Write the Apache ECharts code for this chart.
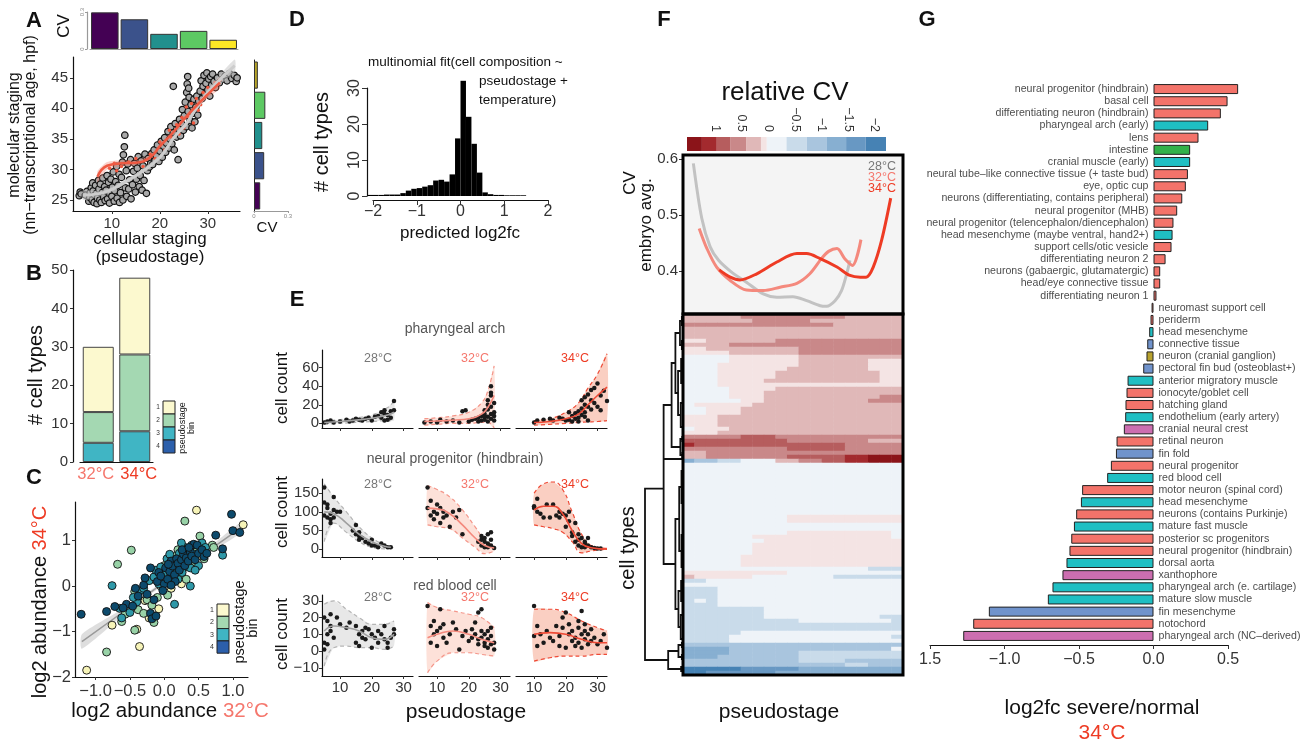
<!DOCTYPE html>
<html>
<head>
<meta charset="utf-8">
<title>temperature and cell composition</title>
<script src="https://cdn.jsdelivr.net/npm/echarts@6.0.0/dist/echarts.min.js"></script>
<style>
  html, body { margin: 0; padding: 0; background: #fff; }
  #fig { width: 1309px; height: 745px; }
</style>
</head>
<body>
<div id="fig"></div>
<script>
const FONT = '"Liberation Sans", Arial, Helvetica, sans-serif';
const INK = '#111', TICK = '#333', SALMON = '#f5776d', RED = '#ee3b24';

// ---------- A: staging ----------
const binLabels = ['1', '2', '3', '4', '5'];
const binColors = ['#440154', '#3b528b', '#21908d', '#5dc963', '#fde725'];
const cvTop = [0.297, 0.241, 0.123, 0.147, 0.075];
const cvRightColors = ['#440154', '#3b528b', '#21908d', '#5dc963', '#b9a62a'];
const cvRight = [0.055, 0.09, 0.073, 0.10, 0.034];

const stagePts = [
  [3.2,25.7],[3.4,26.3],[3.6,26.0],[4.8,26.4],[4.5,25.8],
  [5.2,24.8],[5.4,25.4],[5.5,26.2],[5.7,27.0],[5.9,25.0],[6.0,27.8],[6.1,26.5],[6.3,24.6],[6.4,25.8],[6.6,27.4],[6.8,26.1],[6.9,24.4],[7.0,25.3],[7.2,28.2],[7.3,26.8],[7.5,25.0],[7.6,27.6],
  [7.8,24.6],[8.0,26.2],[8.1,28.6],[8.3,25.5],[8.5,27.2],[8.6,24.9],[8.8,26.6],[9.0,29.0],[9.1,25.2],[9.3,27.9],[9.5,24.5],[9.6,26.0],[9.8,28.4],[10.0,25.6],[10.1,27.1],
  [10.3,29.6],[10.5,24.8],[10.6,26.5],[10.8,28.0],[11.0,30.5],[11.1,25.3],[11.3,27.4],[11.5,29.2],[11.6,24.6],[11.8,26.2],[12.0,28.7],[12.2,31.2],[12.3,25.0],[12.4,32.4],[12.6,33.7],[12.7,35.6],[12.8,27.0],[13.0,29.8],[13.1,25.6],[13.3,30.9],[13.5,26.8],[13.7,28.3],[13.9,31.6],[14.0,25.2],
  [14.3,27.5],[14.5,29.7],[14.7,31.0],[14.9,26.3],[15.1,28.4],[15.3,30.2],[15.5,32.1],[15.7,27.2],[15.9,29.0],[16.1,31.4],[16.3,26.6],[16.5,30.6],[16.7,28.2],[16.9,32.5],[17.2,26.1],[17.4,29.8],[17.6,31.8],[17.8,30.4],
  [18.1,31.0],[18.3,32.6],[18.5,30.8],[18.8,33.2],[19.0,31.5],[19.3,32.2],[19.5,34.0],[19.8,31.3],[20.0,33.0],[20.3,34.6],[20.5,32.0],[20.8,33.8],[21.0,35.2],[21.2,32.8],[21.4,34.3],
  [21.7,36.2],[21.9,33.5],[22.1,35.0],[22.3,37.0],[22.5,34.2],[22.8,43.6],[22.8,36.0],[23.0,33.2],[23.2,37.5],[23.5,35.3],[23.8,31.6],[23.9,36.7],[24.1,38.2],
  [24.3,35.5],[24.5,37.5],[24.7,39.8],[24.9,36.4],[25.1,38.8],[25.3,41.0],[25.5,37.0],[25.6,42.6],[25.7,44.0],[25.8,45.2],[25.9,39.5],[26.0,43.3],[26.1,41.8],[26.3,38.0],[26.5,40.6],[26.7,36.8],[26.9,39.2],[27.1,41.5],[27.3,37.8],[27.5,40.2],[27.7,42.0],[27.9,38.9],[28.1,41.2],
  [28.4,42.8],[28.6,44.5],[28.8,41.6],[29.0,43.6],[29.2,45.4],[29.4,42.3],[29.6,44.1],[29.8,45.8],[30.0,43.0],[30.2,44.8],[30.4,42.0],[30.6,45.2],[30.8,43.8],[31.0,45.6],[31.3,44.4],[31.6,43.4],
  [32.0,45.0],[32.4,44.2],[32.8,45.6],[33.2,44.8],[33.6,45.3],[34.0,44.5],[34.5,45.7],[35.0,44.9],[35.5,45.4],[35.9,44.4],[36.1,45.0]
];
const stageRed = [
  [9.5,30.2],[10.5,31.0],[11,29.8],[12,30.5],[13.5,31.2],[15,31.8],[16.5,30.5],[18,32.5],[19,31.8],[20,34.5],[21,33.2],[22,36.4],[22.5,35.2],[23.5,37.3],
  [24,35.8],[24.6,38.5],[25,36.8],[25.5,40.2],[26,38.6],[26.6,40.8],[27,37.6],[27.6,41.6],[28,39.7],[28.5,40.6],[29,42.6],[30,43.4],[31.5,44.2],[32.5,44.6]
];
const redFitX = [7, 9, 12, 15, 18, 20, 22.7, 25, 27, 30, 32.5];
const redFitY = [28.8, 30.6, 31.0, 31.1, 32.0, 33.8, 36.0, 38.2, 39.9, 42.3, 44.2];
const redFitLo = [27.9, 30.0, 30.5, 30.7, 31.6, 33.4, 35.6, 37.8, 39.4, 41.7, 43.3];
const redFitHi = [29.7, 31.2, 31.5, 31.5, 32.4, 34.2, 36.4, 38.6, 40.4, 42.9, 45.1];
const grayFitX = [4, 7, 9.6, 12, 15.8, 20, 23, 25.6, 28, 31, 35.6];
const grayFitY = [25.8, 26.0, 26.6, 27.6, 29.4, 32.0, 35.3, 37.6, 40.5, 43.5, 47.0];
const grayFitLo = [25.0, 25.5, 26.2, 27.2, 29.0, 31.6, 34.9, 37.2, 40.0, 42.9, 46.0];
const grayFitHi = [26.6, 26.5, 27.0, 28.0, 29.8, 32.4, 35.7, 38.0, 41.0, 44.1, 48.0];

// ---------- B: counts per temperature ----------
const tempLabels = ['32°C', '34°C'];
const countBin1 = [17, 20];
const countBin2 = [8, 20];
const countBin3 = [5, 8];
const legendColors = ['#fcf9cf', '#a4d8b2', '#40b5c4', '#2c5fab'];

// ---------- C: abundance 32 vs 34 ----------
const abund1 = [[-1.13,-1.85],[-0.76,-0.86],[-0.36,-1.33],[-0.40,-0.95],[-0.28,-0.32],[-0.20,-0.65],[-0.15,0.15],[-0.08,-0.50],[0.05,0.30],[0.10,-0.05],[0.20,0.12],[0.35,0.70],[0.47,1.67],[0.55,0.65],[1.15,1.35],[0.25,0.05],[-0.22,-0.70]];
const abund2 = [[-0.84,-1.45],[-0.68,0.48],[-0.57,-0.62],[-0.48,0.79],[-0.43,-0.12],[-0.43,-0.97],[-0.38,-0.52],[-0.25,-0.30],[-0.18,-0.42],[-0.10,-0.25],[-0.05,0.0],[0.0,0.45],[0.05,-0.20],[0.10,0.28],[0.15,0.65],[0.22,0.22],[0.30,1.43],[0.32,0.15],[0.42,0.50],[0.52,1.10],[0.58,0.60],[0.70,0.90],[0.72,0.85],[-0.30,-0.60],[-0.15,-0.80],[0.28,0.40],[0.48,0.78],[-0.62,-0.78],[0.20,0.80]];
const abund3 = [[-0.76,0.01],[-0.65,-0.49],[-0.62,-0.70],[-0.50,-0.58],[-0.40,-0.35],[-0.35,-0.10],[-0.30,-0.05],[-0.22,0.12],[-0.15,0.20],[-0.12,0.35],[-0.05,0.42],[0.0,0.25],[0.04,0.60],[0.08,0.70],[0.12,0.20],[0.16,0.40],[0.20,0.15],[0.22,0.72],[0.26,0.30],[0.30,0.85],[0.34,0.50],[0.38,0.40],[0.40,0.90],[0.44,0.70],[0.50,0.45],[0.55,0.95],[0.60,0.85],[0.85,0.68],[0.15,-0.40],[0.38,0.0],[-0.45,-0.25],[0.05,0.10],[0.45,0.35],[0.25,0.95],[-0.08,0.05]];
const abund4 = [[-1.21,-0.62],[-0.84,-0.56],[-0.72,-0.45],[-0.55,-0.40],[-0.46,-0.44],[-0.38,-0.22],[-0.30,0.02],[-0.25,-0.18],[-0.20,-0.60],[-0.18,-0.72],[-0.12,-0.66],[-0.15,-0.30],[-0.10,0.10],[-0.08,0.30],[-0.05,0.22],[0.0,0.05],[0.02,0.40],[0.05,0.15],[0.08,0.32],[0.10,0.55],[0.12,0.44],[0.15,0.25],[0.18,0.60],[0.20,0.50],[0.22,0.35],[0.25,0.58],[0.28,0.70],[0.30,0.45],[0.32,0.62],[0.35,0.55],[0.38,0.75],[0.40,0.66],[0.43,0.92],[0.45,0.58],[0.48,0.90],[0.50,0.72],[0.55,0.80],[0.58,0.65],[0.62,0.72],[0.75,1.12],[0.85,0.82],[0.98,1.58],[1.0,1.22],[1.10,1.18],[-0.60,-0.48],[-0.42,-0.05],[-0.28,0.18],[-0.20,0.40],[0.06,0.48],[0.16,0.10],[0.26,0.80],[0.36,0.85],[-0.02,-0.10],[0.10,0.02]];
const abundColors = ['#f7f4b8', '#98d2a7', '#2e98a8', '#0c4a6c'];
const abFitX = [-1.2, -0.6, 0, 0.6, 1.15];
const abFitY = [-1.22, -0.57, 0.08, 0.73, 1.32];
const abFitLo = [-1.38, -0.64, 0.04, 0.67, 1.21];
const abFitHi = [-1.06, -0.50, 0.12, 0.79, 1.43];

// ---------- D: histogram of predicted log2fc ----------
const histStart = -2.125, histWidth = 0.125;
const histCounts = [0.3,0.3,0.3,0.4,0.4,0.4,0.8,1.5,2.0,2.2,2.6,3.0,4.3,4.5,4.0,6.0,16,32,22,14.5,6.5,1.0,0.5,0.3,0.3,0.2,0.2,0.2,0.2];

// ---------- E: example cell types ----------
const arch28 = { pts: [[5,1],[6,2],[7,3],[8,1],[10,2],[12,4],[13,2],[14,3],[15,5],[16,4],[17,3],[18,5],[19,6],[20,3],[21,7],[22,8],[23,6],[24,10],[24,14],[25,9],[25,4],[26,13],[26,6],[27,14],[27,24],[24,3],[23,12]],
  x: [5,10,15,20,25,27], mid: [1,2,3.5,5.5,9,12], lo: [-1,0,1,2,3,3], hi: [3,4,6,9,17,24] };
const arch32 = { pts: [[6,1],[8,2],[10,1],[11,4],[13,2],[15,3],[17,1],[18,13],[19,14],[20,2],[21,4],[22,5],[23,6],[23,2],[24,8],[24,3],[25,10],[25,4],[25,14],[26,20],[26,7],[26,25],[26,2],[27,30],[27,40],[27,18],[27,10],[27,5],[28,22],[28,12],[28,8],[27,33],[26,15],[25,7],[28,3]],
  x: [6,10,15,20,24,26,28], mid: [2,2.5,3.5,5,10,17,30], lo: [-2,-1,0,0,1,1,-5], hi: [5,6,8,12,22,35,62] };
const arch34 = { pts: [[10,1],[11,3],[13,4],[15,5],[16,3],[18,6],[20,3],[21,4],[21,12],[22,8],[23,5],[23,11],[24,13],[24,6],[25,16],[25,9],[25,25],[26,28],[26,20],[26,12],[26,7],[27,31],[27,18],[27,3],[28,36],[28,15],[28,25],[29,38],[29,22],[30,43],[30,18],[31,14],[31,30],[33,24],[32,35],[24,2],[22,2],[19,5]],
  x: [10,15,20,24,27,30,33], mid: [1,2,5,10,20,30,39], lo: [-2,-1,0,1,1.5,2,3], hi: [3,5,12,22,38,53,75] };
const np28 = { pts: [[5,165],[5,125],[5,90],[6,85],[6,120],[6,110],[7,80],[7,95],[7,70],[8,105],[8,140],[8,85],[9,100],[10,100],[14,50],[15,65],[15,40],[16,35],[16,25],[16,45],[17,30],[18,20],[19,15],[20,25],[20,10],[21,10],[22,5],[23,15],[24,10],[25,5],[26,5]],
  x: [5,8,12,16,20,24,26], mid: [100,95,70,40,20,8,5], lo: [20,70,45,20,5,1,1], hi: [175,140,100,60,30,12,8] };
const np32 = { pts: [[7,165],[7,110],[8,130],[8,90],[9,100],[9,80],[10,120],[10,95],[11,110],[11,70],[12,85],[12,100],[13,90],[14,60],[15,100],[16,85],[17,105],[18,40],[23,20],[24,35],[24,10],[25,5],[25,20],[26,15],[26,40],[27,45],[27,10],[26,5],[27,25],[28,3],[24,25],[25,30]],
  x: [7,10,14,18,22,25,28], mid: [110,108,95,65,30,10,3], lo: [65,60,55,30,5,-12,-5], hi: [170,160,140,105,60,25,8] };
const np34 = { pts: [[10,115],[10,110],[11,135],[11,100],[12,95],[13,85],[14,120],[15,85],[16,120],[17,90],[18,85],[18,100],[19,95],[20,90],[20,60],[21,100],[21,75],[22,45],[22,35],[23,20],[23,70],[24,25],[24,10],[25,30],[25,5],[26,15],[26,5],[27,30],[27,10],[28,5],[29,3],[30,2],[31,2],[24,40],[26,20]],
  x: [10,13,16,19,22,25,28,33], mid: [105,115,115,95,50,15,4,0], lo: [65,60,55,45,20,-10,-5,0], hi: [150,175,180,160,100,40,10,2] };
const rbc28 = { pts: [[5,20],[5,5],[5,1],[6,18],[6,10],[6,4],[7,15],[7,22],[7,12],[8,8],[9,20],[10,16],[12,14],[13,17],[15,15],[15,5],[16,10],[16,3],[17,12],[17,8],[18,14],[19,13],[20,10],[20,2],[21,8],[22,5],[23,10],[24,15],[24,7],[25,5],[25,2],[26,8],[27,13],[27,10],[18,7],[22,12]],
  x: [5,8,12,16,20,24,27], mid: [12,15,14,12,8,7,10], lo: [-9,2,3,2,2,1,3], hi: [28,30,25,20,16,16,18] };
const rbc32 = { pts: [[7,27],[8,15],[8,5],[9,18],[9,10],[10,12],[10,3],[11,25],[11,14],[12,8],[12,16],[13,5],[14,10],[15,17],[16,13],[17,1],[18,9],[19,12],[20,6],[21,8],[22,10],[22,17],[23,23],[23,4],[24,25],[24,12],[24,8],[25,5],[25,3],[25,10],[26,7],[26,2],[26,12],[27,4],[27,9],[27,14],[28,5],[28,1],[21,13],[23,7]],
  x: [7,10,15,20,24,28], mid: [8,10,12,10,7,5], lo: [-13,-6,-1,-1,-2,-3], hi: [29,26,24,22,20,14] };
const rbc34 = { pts: [[10,9],[10,27],[11,15],[11,3],[12,10],[13,5],[14,12],[15,8],[16,6],[17,15],[18,9],[19,14],[19,20],[20,23],[20,2],[21,10],[21,16],[22,6],[22,12],[23,8],[23,3],[24,14],[24,5],[25,24],[25,10],[25,2],[26,16],[26,7],[26,12],[27,4],[27,10],[28,6],[28,13],[29,8],[30,4],[31,6],[32,10],[33,2],[18,3],[24,18]],
  x: [10,15,20,25,30,33], mid: [10,11,10,7,5,5], lo: [-6,-4,-3,-3,-2,-2], hi: [25,25,23,18,14,12] };

// ---------- F: relative CV ----------
const cvBreaks = [1.53, 1.25, 0.97, 0.71, 0.42, 0.14, 0.03, -0.34, -0.72, -1.09, -1.46, -1.83, -2.21];
const cvColors = ['#8b1419', '#a32a2e', '#b65d5e', '#c98889', '#e0b8b8', '#f4e4e4', '#eef3f8', '#c9dbea', '#a9c5de', '#87afd1', '#6898c3', '#4682b4'];
const cvLevels = [1.39, 1.11, 0.84, 0.565, 0.28, 0.085, -0.155, -0.53, -0.905, -1.275, -1.645, -2.02];
const cvTicks = [1, 0.5, 0, -0.5, -1, -1.5, -2];
const cv28X = [4.6,5.9,7.2,8.5,10.5,12.8,15.4,17.5,20,22.1,24.2,25.2,26.5,27.5,28.3,28.8];
const cv28Y = [0.592,0.494,0.443,0.419,0.398,0.380,0.359,0.353,0.354,0.347,0.338,0.337,0.347,0.365,0.395,0.419];
const cv32X = [5.5,6.7,8.2,10.3,12.8,15.4,18,20.6,22.6,24.4,25.5,26.8,28,29.2,30.5];
const cv32Y = [0.476,0.440,0.407,0.383,0.366,0.365,0.371,0.378,0.395,0.422,0.435,0.440,0.422,0.410,0.456];
const cv34X = [8.6,10.3,11.8,14.4,17.5,20.6,22.1,24.2,26.8,28.8,30.4,31.3,32.4,33.7,35.1];
const cv34Y = [0.402,0.389,0.384,0.395,0.416,0.431,0.431,0.422,0.407,0.392,0.389,0.389,0.407,0.455,0.530];
// one string per cell type, run-length coded: level x number of pseudostage bins (19 bins)
const cvRows = [
  '4x5 3x9 4x5', '4x6 3x5 4x8', '3x13 4x6', '4x19', '4x19', '4x19', '5x2 4x6 3x11', '4x4 3x15', '5x2 4x8 3x9', '5x4 4x6 3x9',
  '6x4 5x6 4x9', '6x4 5x6 4x6 5x3', '6x3 5x7 4x6 5x3', '6x3 5x6 4x7 5x3', '6x3 5x5 4x9 5x2', '6x3 5x5 4x9 5x2', '6x3 5x4 4x10 5x2', '6x3 5x16', '6x4 5x4 4x11', '6x4 5x3 4x12',
  '6x4 5x3 4x10 3x2', '6x5 5x2 4x9 3x3', '6x1 5x5 4x13', '6x2 5x3 4x14', '6x2 5x3 4x14', '5x3 4x16', '5x3 4x16', '5x3 4x16', '6x1 5x3 4x15', '5x3 4x16',
  '3x5 2x3 3x11', '2x9 3x7 4x3', '1x1 2x13 3x5', '3x9 2x5 3x5', '4x2 3x17', '4x2 3x7 2x5 1x2 0x3', '9x1 8x2 7x2 6x3 4x2 3x2 2x2 1x2 0x3', '6x19', '6x19', '6x19',
  '6x19', '6x19', '6x19', '6x19', '6x19', '6x19', '6x19', '6x19', '6x19', '6x19',
  '6x9 5x10', '6x9 5x10', '6x19', '6x19', '6x9 5x9 6x1', '6x6 5x12 6x1', '6x7 5x12', '6x6 5x13', '6x6 5x13', '6x6 5x13',
  '6x5 5x14', '6x5 5x14', '6x5 5x14', '6x16 7x3', '5x9 6x10', '4x1 5x5 6x7 7x6', '7x2 6x17', '6x19', '7x3 6x16', '7x3 6x16',
  '7x3 6x16', '7x1 6x1 7x1 6x16', '7x3 6x16', '7x7 6x12', '7x7 6x12', '7x7 6x10 7x2', '7x10 6x8 7x1', '7x19', '7x19', '7x5 6x14',
  '7x4 6x14 7x1', '7x4 6x15', '8x19', '9x4 8x14 6x1', '9x4 8x6 7x9', '9x3 8x7 7x9', '8x10 7x4 8x5', '8x14 7x2 8x3', 'bx5 ax5 9x9', 'bx2 ax6 9x11'
];
// dendrogram joins: [height, row of upper child, row of lower child, upper child height, lower child height]
const dendroNodes = [
  [1.00, 43.4, 86.25, 0.51, 0.39],
  [0.51, 22.5, 62.25, 0.30, 0.20], [0.51, 36.0, 36.0, 0, 0],
  [0.30, 12.0, 33.0, 0.20, 0.07], [0.20, 4.5, 19.5, 0.08, 0.13],
  [0.08, 1.5, 7.5, 0.03, 0.03], [0.03, 0.5, 2.5, 0, 0], [0.03, 6.5, 8.5, 0, 0],
  [0.13, 14, 25, 0.05, 0.06], [0.05, 11, 17, 0, 0], [0.06, 22, 28, 0, 0],
  [0.07, 31, 35, 0.02, 0.02], [0.02, 30.5, 31.5, 0, 0], [0.02, 34.5, 35.5, 0, 0],
  [0.20, 51, 73.5, 0.10, 0.12], [0.10, 43, 59, 0.04, 0.04], [0.04, 39, 47, 0, 0], [0.04, 55, 63, 0, 0],
  [0.12, 69, 78, 0.05, 0.06], [0.05, 66.5, 71.5, 0, 0], [0.06, 75, 81, 0, 0],
  [0.39, 84, 88.5, 0.12, 0.05], [0.12, 82.5, 85.5, 0.03, 0.03], [0.03, 82, 83, 0, 0], [0.03, 85, 86, 0, 0], [0.05, 88, 89, 0, 0]
];

// ---------- G: log2fc severe/normal ----------
const gNames = ['neural progenitor (hindbrain)', 'basal cell', 'differentiating neuron (hindbrain)', 'pharyngeal arch (early)', 'lens', 'intestine', 'cranial muscle (early)',
  'neural tube\u2013like connective tissue (+ taste bud)', 'eye, optic cup', 'neurons (differentiating, contains peripheral)', 'neural progenitor (MHB)',
  'neural progenitor (telencephalon/diencephalon)', 'head mesenchyme (maybe ventral, hand2+)', 'support cells/otic vesicle', 'differentiating neuron 2',
  'neurons (gabaergic, glutamatergic)', 'head/eye connective tissue', 'differentiating neuron 1',
  'neuromast support cell', 'periderm', 'head mesenchyme', 'connective tissue', 'neuron (cranial ganglion)', 'pectoral fin bud (osteoblast+)', 'anterior migratory muscle',
  'ionocyte/goblet cell', 'hatching gland', 'endothelium (early artery)', 'cranial neural crest', 'retinal neuron', 'fin fold', 'neural progenitor', 'red blood cell',
  'motor neuron (spinal cord)', 'head mesenchyme', 'neurons (contains Purkinje)', 'mature fast muscle', 'posterior sc progenitors', 'neural progenitor (hindbrain)',
  'dorsal aorta', 'xanthophore', 'pharyngeal arch (e. cartilage)', 'mature slow muscle', 'fin mesenchyme', 'notochord', 'pharyngeal arch (NC\u2013derived)'];
const gVals = [0.568, 0.497, 0.452, 0.367, 0.302, 0.246, 0.246, 0.231, 0.217, 0.193, 0.159, 0.134, 0.128, 0.121, 0.081, 0.045, 0.045, 0.020,
  -0.013, -0.020, -0.029, -0.042, -0.047, -0.069, -0.174, -0.181, -0.188, -0.190, -0.199, -0.248, -0.252, -0.286, -0.311,
  -0.479, -0.487, -0.519, -0.534, -0.552, -0.564, -0.584, -0.611, -0.678, -0.709, -1.105, -1.210, -1.277];
const gGroup = ['N','N','N','M','N','E','M','N','N','N','N','N','M','N','N','N','N','N',
  'N','N','M','C','G','C','M','N','N','M','X','N','C','N','M','N','M','N','M','N','N','M','X','M','M','C','N','X'];
const gColors = { N: '#f3736a', M: '#1fbfc3', E: '#33b14a', C: '#7093cc', G: '#b8a22e', X: '#cc6eb0' };

// ---------- building blocks ----------
const grid = [], xAxis = [], yAxis = [], series = [], elements = [];

function panel(box, xa, ya) {
  const g = grid.length;
  grid.push({ left: box[0], top: box[1], width: box[2], height: box[3] });
  xa.gridIndex = g; ya.gridIndex = g;
  xAxis.push(xa); yAxis.push(ya);
  return { xAxisIndex: g, yAxisIndex: g };
}

function axisV(min, max, ticks, o) {
  o = o || {};
  const fmt = o.fmt || (v => String(v).replace('-', '\u2212'));
  return {
    type: 'value', min: min, max: max, inverse: !!o.inverse, position: o.position, offset: o.offset || 0,
    splitLine: { show: false },
    axisLine: { show: o.line !== false, onZero: false, lineStyle: { color: o.lineColor || INK, width: 1.2 } },
    axisTick: { show: !!ticks && o.tick !== false, customValues: ticks || [], length: o.tickLen || 3, lineStyle: { color: o.lineColor || TICK } },
    axisLabel: { show: !!ticks && o.label !== false, customValues: ticks || [], color: o.labelColor || TICK, fontFamily: FONT,
      fontSize: o.fs || 15, margin: o.margin == null ? 5 : o.margin, rotate: o.rotate || 0, formatter: fmt }
  };
}

function scatter(ax, data, color, size, border, z) {
  series.push({ type: 'scatter', ...ax, data: data, symbolSize: size, z: z || 2, silent: true,
    itemStyle: { color: color, borderColor: '#111', borderWidth: border || 0, opacity: 1 } });
}
function curve(ax, xs, ys, color, width, dash, z, smooth) {
  series.push({ type: 'line', ...ax, data: xs.map((x, i) => [x, ys[i]]), smooth: smooth == null ? 0.5 : smooth, symbol: 'none', z: z || 3, silent: true,
    lineStyle: { color: color, width: width, type: dash ? [4, 3] : 'solid' } });
}
function band(ax, xs, lo, hi, fill, z) {
  series.push({ type: 'custom', ...ax, data: [[xs[0], lo[0]]], z: z || 1, silent: true,
    renderItem: (params, api) => {
      const pts = xs.map((x, i) => api.coord([x, hi[i]])).concat(xs.map((x, i) => api.coord([x, lo[i]])).reverse());
      return { type: 'polygon', shape: { points: pts, smooth: 0.2 }, style: { fill: fill } };
    } });
}
function txt(x, y, text, size, o) {
  o = o || {};
  elements.push({ type: 'text', x: x, y: y, rotation: o.rot ? Math.PI / 2 : 0, z: 50, silent: true,
    style: { text: text, fill: o.color || INK, fontFamily: FONT, fontSize: size, fontWeight: o.bold ? 'bold' : 'normal',
      align: o.align || 'center', verticalAlign: 'middle', rich: o.rich } });
}
function rect(x, y, w, h, fill, stroke, lw) {
  elements.push({ type: 'rect', z: 60, silent: true, shape: { x: x, y: y, width: w, height: h },
    style: { fill: fill, stroke: stroke, lineWidth: lw } });
}

// ---------- A ----------
const axA = panel([73, 57, 167, 154], axisV(1.9, 36.7, [10, 20, 30]), axisV(23.2, 48.4, [25, 30, 35, 40, 45]));
scatter(axA, stagePts, '#a9a9a9', 6.5, 1.2, 2);
scatter(axA, stageRed, '#f0583f', 3.5, 0, 3);
band(axA, grayFitX, grayFitLo, grayFitHi, 'rgba(200,200,200,0.55)', 4);
curve(axA, grayFitX, grayFitY, '#cdcdcd', 3, false, 5);
band(axA, redFitX, redFitLo, redFitHi, 'rgba(240,110,90,0.3)', 4);
curve(axA, redFitX, redFitY, '#ee5a43', 2.5, false, 5);

const axAt = panel([90, 12, 148, 37],
  { type: 'category', data: binLabels, axisLine: { lineStyle: { color: '#999' } }, axisTick: { alignWithLabel: true, length: 2, lineStyle: { color: '#999' } }, axisLabel: { show: false } },
  axisV(0, 0.3, [0, 0.3], { fs: 6, rotate: 90, lineColor: '#999', labelColor: '#888', offset: 3, margin: 2, tickLen: 2 }));
series.push({ type: 'bar', ...axAt, data: cvTop.map((v, i) => ({ value: v, itemStyle: { color: binColors[i] } })), barCategoryGap: '7%', silent: true,
  itemStyle: { borderColor: '#333', borderWidth: 1 } });

const axAr = panel([254, 60, 34, 151],
  axisV(0, 0.3, [0, 0.3], { fs: 6, lineColor: '#999', labelColor: '#888', margin: 2, tickLen: 2 }),
  { type: 'category', data: binLabels, offset: 2, axisLine: { lineStyle: { color: '#222' } }, axisTick: { alignWithLabel: true, length: 2 }, axisLabel: { show: false } });
series.push({ type: 'bar', ...axAr, data: cvRight.map((v, i) => ({ value: v, itemStyle: { color: cvRightColors[i] } })), barCategoryGap: '10%', silent: true,
  itemStyle: { borderColor: '#333', borderWidth: 1 } });

txt(34, 21, 'A', 22, { bold: true });
txt(64, 26, 'CV', 17, { rot: true });
txt(15, 135, 'molecular staging', 16, { rot: true });
txt(31, 135, '(nn\u2212transcriptional age, hpf)', 16, { rot: true });
txt(150, 239, 'cellular staging', 17);
txt(150, 257, '(pseudostage)', 17);
txt(267, 228, 'CV', 15);

// ---------- B ----------
const axB = panel([80, 270, 73, 192],
  { type: 'category', data: tempLabels, axisLine: { lineStyle: { color: INK, width: 1.2 } }, axisTick: { show: false },
    axisLabel: { interval: 0, margin: 4, formatter: (v, i) => (i === 0 ? '{a|' : '{b|') + v + '}',
      rich: { a: { color: SALMON, fontSize: 16.5, fontFamily: FONT, padding: [0, 5, 0, 0] },
              b: { color: RED, fontSize: 16.5, fontFamily: FONT, padding: [0, 0, 0, 8] } } } },
  axisV(0, 50, [0, 10, 20, 30, 40, 50], { offset: 7 }));
[[countBin3, legendColors[2]], [countBin2, legendColors[1]], [countBin1, legendColors[0]]].forEach(([vals, col]) => {
  series.push({ type: 'bar', ...axB, data: vals, stack: 'bins', barWidth: 31, silent: true,
    itemStyle: { color: col, borderColor: '#444', borderWidth: 1 } });
});
legendColors.forEach((c, k) => {
  rect(163, 401 + 13 * k, 12, 13, c, '#222', 1);
  txt(158, 407.5 + 13 * k, String(k + 1), 6.5, { color: '#333' });
});
txt(183, 428, 'pseudostage', 9, { rot: true });
txt(192, 428, 'bin', 9, { rot: true });
txt(34, 274, 'B', 22, { bold: true });
txt(36, 375, '# cell types', 20, { rot: true });

// ---------- C ----------
const axC = panel([75, 502, 173, 175],
  axisV(-1.30, 1.22, [-1, -0.5, 0, 0.5, 1], { fs: 16.5, margin: 6, fmt: v => v.toFixed(1).replace('-', '\u2212') }),
  axisV(-2, 1.85, [-2, -1, 0, 1], { fs: 16.5, margin: 4 }));
band(axC, abFitX, abFitLo, abFitHi, 'rgba(190,190,190,0.5)', 1);
curve(axC, abFitX, abFitY, '#9a9a9a', 1.5, false, 2, 0);
[abund1, abund2, abund3, abund4].forEach((d, k) => scatter(axC, d, abundColors[k], 8, 0.9, 3 + k));
legendColors.forEach((c, k) => {
  rect(217, 604 + 12.3 * k, 12, 12.3, c, '#222', 1);
  txt(212, 610 + 12.3 * k, String(k + 1), 7, { color: '#333' });
});
txt(240, 622, 'pseudostage', 14.5, { rot: true });
txt(253, 628, 'bin', 14.5, { rot: true });
txt(34, 478, 'C', 22, { bold: true });
txt(40, 602, 'log2 abundance {r|34°C}', 20, { rot: true, rich: { r: { fill: RED, fontSize: 20, fontFamily: FONT } } });
txt(170, 711, 'log2 abundance {s|32°C}', 20.5, { rich: { s: { fill: SALMON, fontSize: 20.5, fontFamily: FONT } } });

// ---------- D ----------
const axD = panel([373, 88, 175, 108],
  axisV(-2, 2, [-2, -1, 0, 1, 2], { offset: 4, fs: 16, tickLen: 5, margin: 4 }),
  axisV(0, 30, [0, 10, 20, 30], { offset: 6, fs: 16, tickLen: 5, rotate: 90, margin: 4 }));
series.push({ type: 'custom', ...axD, data: histCounts.map((c, i) => [histStart + i * histWidth, c]), silent: true, clip: false,
  renderItem: (params, api) => {
    const a = api.coord([api.value(0), api.value(1)]);
    const b = api.coord([api.value(0) + histWidth, 0]);
    return { type: 'rect', shape: { x: a[0], y: a[1], width: b[0] - a[0], height: b[1] - a[1] }, style: { fill: '#000' } };
  } });
txt(297, 20, 'D', 22, { bold: true });
txt(368, 62, 'multinomial fit(cell composition ~', 13.5, { align: 'left' });
txt(479, 81, 'pseudostage +', 13.5, { align: 'left' });
txt(479, 100, 'temperature)', 13.5, { align: 'left' });
txt(322, 142, '# cell types', 20, { rot: true });
txt(460, 233, 'predicted log2fc', 17);

// ---------- E ----------
const eRows = [
  { title: 'pharyngeal arch', top: 350, h: 78, ymin: -5, ymax: 79, ticks: [0, 20, 40, 60], tempY: 359, titleY: 329, labelY: 388, sets: [arch28, arch32, arch34] },
  { title: 'neural progenitor (hindbrain)', top: 479, h: 78, ymin: -21, ymax: 188, ticks: [0, 50, 100, 150], tempY: 485, titleY: 459, labelY: 512, sets: [np28, np32, np34] },
  { title: 'red blood cell', top: 595, h: 81, ymin: -14.9, ymax: 33.5, ticks: [-10, 0, 10, 20, 30], tempY: 598, titleY: 586, labelY: 634, sets: [rbc28, rbc32, rbc34] }
];
const eLefts = [322, 419, 516];
const eTemps = ['28°C', '32°C', '34°C'];
const eTempX = [378, 475, 575];
const eStyles = [
  { line: '#a0a0a0', fill: 'rgba(190,190,190,0.35)', dash: '#b5b5b5', text: '#777' },
  { line: '#f4897d', fill: 'rgba(250,175,155,0.38)', dash: '#f4968a', text: SALMON },
  { line: '#ee4a36', fill: 'rgba(243,140,110,0.42)', dash: '#ee4a36', text: RED }
];
eRows.forEach((row, r) => {
  row.sets.forEach((s, c) => {
    const st = eStyles[c];
    const ax = panel([eLefts[c], row.top, 91, row.h],
      axisV(4.3, 33, [10, 20, 30], { label: r === 2, fs: 15, margin: 4 }),
      axisV(row.ymin, row.ymax, row.ticks, { line: c === 0, tick: c === 0, label: c === 0, fs: 15, margin: 3 }));
    band(ax, s.x, s.lo, s.hi, st.fill, 1);
    curve(ax, s.x, s.lo, st.dash, 1.2, true, 2);
    curve(ax, s.x, s.hi, st.dash, 1.2, true, 2);
    scatter(ax, s.pts, '#1a1a1a', 4.5, 0, 3);
    curve(ax, s.x, s.mid, st.line, 1.6, false, 4);
    txt(eTempX[c], row.tempY, eTemps[c], 12.5, { color: st.text });
  });
  txt(455, row.titleY, row.title, 14, { color: '#555' });
  txt(282, row.labelY, 'cell count', 17, { rot: true });
});
txt(297, 300, 'E', 22, { bold: true });
txt(466, 712, 'pseudostage', 21);

// ---------- F ----------
const axCb = panel([687, 137, 199, 14],
  axisV(cvBreaks[cvBreaks.length - 1], cvBreaks[0], cvTicks, { inverse: true, position: 'top', line: false, tick: false, rotate: 90, fs: 12.5, margin: 5 }),
  { type: 'value', min: 0, max: 1, show: false });
series.push({ type: 'custom', ...axCb, data: cvColors.map((c, k) => [cvLevels[k], 0.5]), silent: true,
  renderItem: (params, api) => {
    const k = params.dataIndex;
    const a = api.coord([cvBreaks[k], 1]);
    const b = api.coord([cvBreaks[k + 1], 0]);
    return { type: 'rect', shape: { x: Math.min(a[0], b[0]), y: a[1], width: Math.abs(b[0] - a[0]), height: b[1] - a[1] }, style: { fill: cvColors[k] } };
  } });

const axF = panel([683, 155, 220, 158], { type: 'value', min: 3, max: 37, show: false },
  axisV(0.325, 0.607, [0.4, 0.5, 0.6], { line: false, fs: 15, tickLen: 4, margin: 5 }));
Object.assign(grid[axF.xAxisIndex], { show: true, backgroundColor: '#f4f4f4', borderWidth: 0 });
curve(axF, cv28X, cv28Y, '#c2c2c2', 3, false, 3, 0.3);
curve(axF, cv32X, cv32Y, '#f4897d', 3, false, 4, 0.3);
curve(axF, cv34X, cv34Y, '#ee3b24', 3, false, 5, 0.3);
txt(896, 167, '28°C', 12.5, { align: 'right', color: '#777' });
txt(896, 178, '32°C', 12.5, { align: 'right', color: SALMON });
txt(896, 189, '34°C', 12.5, { align: 'right', color: RED });

const heatData = [];
cvRows.forEach((s, r) => {
  let c = 0;
  s.split(' ').forEach(tok => {
    const parts = tok.split('x');
    const lev = '0123456789ab'.indexOf(parts[0]);
    for (let k = 0; k < +parts[1]; k++) heatData.push([c++, r, cvLevels[lev]]);
  });
});
const axH = panel([683, 315, 220, 360],
  { type: 'category', data: Array.from({ length: 19 }, (_, i) => String(i)), show: false },
  { type: 'category', data: cvRows.map((_, i) => String(i)), inverse: true, show: false });
const heatIndex = series.length;
series.push({ type: 'heatmap', ...axH, data: heatData, silent: true, itemStyle: { borderWidth: 0 } });

const axDen = panel([645, 315, 38, 360], { type: 'value', min: 0, max: 1, inverse: true, show: false },
  { type: 'value', min: 0, max: 90, inverse: true, show: false });
series.push({ type: 'custom', ...axDen, data: dendroNodes.map(n => [n[0], n[1]]), silent: true, z: 5,
  renderItem: (params, api) => {
    const n = dendroNodes[params.dataIndex];
    const pts = [[n[3], n[1]], [n[0], n[1]], [n[0], n[2]], [n[4], n[2]]].map(p => api.coord(p));
    return { type: 'polyline', shape: { points: pts }, style: { stroke: '#111', lineWidth: 1.8, fill: null } };
  } });
rect(683, 155, 220, 159, 'transparent', '#000', 3);
rect(683, 314, 220, 361, 'transparent', '#000', 3);
txt(664, 20, 'F', 22, { bold: true });
txt(785, 93, 'relative CV', 26);
txt(630, 183, 'CV', 17, { rot: true });
txt(646, 225, 'embryo avg.', 17, { rot: true });
txt(628, 548, 'cell types', 20, { rot: true });
txt(779, 712, 'pseudostage', 21);

// ---------- G ----------
const axG = panel([930, 83, 298, 559],
  axisV(-1.5, 0.5, [-1.5, -1, -0.5, 0, 0.5], { offset: 3, fs: 16, tickLen: 4, margin: 7,
    fmt: v => (v === -1.5 ? '1.5' : v.toFixed(1).replace('-', '\u2212')) }),
  { type: 'category', data: gNames.map((_, i) => String(i)), inverse: true, show: false });
series.push({ type: 'bar', ...axG, barWidth: 10, clip: false, silent: true,
  data: gVals.map((v, i) => ({ value: v, itemStyle: { color: gColors[gGroup[i]] }, label: { position: v >= 0 ? 'left' : 'right' } })),
  itemStyle: { borderColor: '#222', borderWidth: 1 },
  label: { show: true, formatter: p => gNames[p.dataIndex], fontFamily: FONT, fontSize: 10.6, color: '#4d4d4d', distance: 5 } });
txt(927, 20, 'G', 22, { bold: true });
txt(1102, 708, 'log2fc severe/normal', 21);
txt(1102, 733, '34°C', 21, { color: RED });

const chart = echarts.init(document.getElementById('fig'), null, { renderer: 'canvas' });
chart.setOption({
  backgroundColor: '#fff',
  animation: false,
  textStyle: { fontFamily: FONT },
  grid: grid, xAxis: xAxis, yAxis: yAxis, series: series,
  visualMap: [{ type: 'piecewise', show: false, seriesIndex: heatIndex, dimension: 2,
    pieces: cvColors.map((c, k) => ({ gt: cvBreaks[k + 1], lte: cvBreaks[k], color: c })) }],
  graphic: { elements: elements }
});
</script>
</body>
</html>
